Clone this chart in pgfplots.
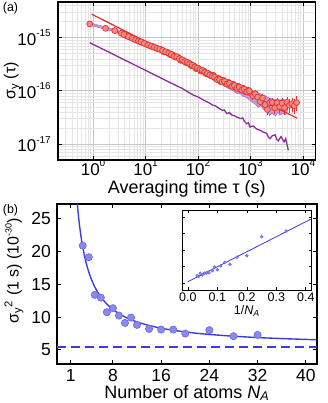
\documentclass[border=0pt]{standalone}
\usepackage{fontspec}
\setmainfont{Liberation Sans}
\usepackage{pgfplots}
\pgfplotsset{compat=1.18}
\definecolor{redline}{HTML}{E3342F}
\definecolor{redfill}{HTML}{F08A86}
\definecolor{purp}{HTML}{8E2D9C}
\definecolor{purpfill}{HTML}{C29AD6}
\definecolor{blueline}{HTML}{3B3BE0}
\definecolor{bluefill}{HTML}{8A8AEE}
\newcommand{\sx}[1]{\raisebox{8.5pt}{\fontsize{10}{10}\selectfont #1}}
\newcommand{\sy}[1]{\raisebox{7pt}{\fontsize{9}{9}\selectfont #1}}
\pgfplotstableread{
t s e
0.866 1.81e-15 0.03
1.73 1.50e-15 0.03
2.60 1.36e-15 0.03
3.46 1.21e-15 0.03
4.33 1.09e-15 0.03
5.20 1.005e-15 0.03
6.06 9.40e-16 0.03
6.93 8.89e-16 0.03
7.79 8.49e-16 0.03
8.66 8.15e-16 0.04
10.39 7.52e-16 0.04
12.12 7.05e-16 0.04
13.86 6.75e-16 0.04
15.59 6.43e-16 0.04
17.32 6.17e-16 0.04
19.9 5.96e-16 0.04
22.5 5.41e-16 0.05
26.0 5.27e-16 0.05
29.4 4.79e-16 0.05
32.9 4.74e-16 0.05
37.2 4.31e-16 0.05
41.6 4.27e-16 0.05
46.8 3.75e-16 0.05
52.8 3.70e-16 0.06
58.9 3.42e-16 0.06
65.8 3.35e-16 0.06
73.6 2.99e-16 0.06
82.3 2.96e-16 0.06
91.8 2.62e-16 0.07
102.2 2.60e-16 0.07
114.3 2.35e-16 0.07
127.3 2.38e-16 0.07
142 2.11e-16 0.08
158.5 2.09e-16 0.08
176.7 1.93e-16 0.08
196.6 1.96e-16 0.08
219.1 1.69e-16 0.09
244.2 1.72e-16 0.09
271.9 1.49e-16 0.09
303.1 1.58e-16 0.10
337.7 1.37e-16 0.10
376.7 1.45e-16 0.10
420 1.25e-16 0.11
467.6 1.33e-16 0.11
519.6 1.15e-16 0.12
580.2 1.22e-16 0.12
645 1.06e-16 0.13
718.8 1.12e-16 0.13
801 9.72e-17 0.14
892 1.03e-16 0.14
996 9.13e-17 0.15
1108 8.08e-17 0.15
1230 8.80e-17 0.16
1368 7.61e-17 0.17
1524 6.28e-17 0.18
1697 7.32e-17 0.18
1888 5.51e-17 0.19
2104 4.45e-17 0.20
2338 5.96e-17 0.21
2598 6.05e-17 0.22
2901 4.76e-17 0.23
3230 5.96e-17 0.24
3594 5.03e-17 0.25
4001 5.87e-17 0.26
4460 4.84e-17 0.27
4962 6.05e-17 0.28
5525 5.35e-17 0.29
6149 5.69e-17 0.30
6841 5.27e-17 0.31
7534 6.04e-17 0.32
3.87 1.15e-15 0.03
4.75 1.047e-15 0.03
5.61 9.72e-16 0.03
6.48 9.14e-16 0.03
7.35 8.69e-16 0.03
8.21 8.32e-16 0.03
9.49 7.83e-16 0.04
11.22 7.28e-16 0.04
12.96 6.90e-16 0.04
14.7 6.59e-16 0.04
16.43 6.30e-16 0.04
18.57 6.06e-16 0.04
21.16 5.75e-16 0.04
24.19 5.45e-16 0.05
27.65 5.10e-16 0.05
31.1 4.85e-16 0.05
35.0 4.45e-16 0.05
39.3 4.40e-16 0.05
44.1 4.05e-16 0.05
49.7 3.85e-16 0.05
55.8 3.56e-16 0.06
62.3 3.45e-16 0.06
69.6 3.22e-16 0.06
77.8 3.05e-16 0.06
86.9 2.83e-16 0.06
96.9 2.70e-16 0.07
108.1 2.50e-16 0.07
120.6 2.42e-16 0.07
134.5 2.26e-16 0.07
150 2.15e-16 0.08
167.4 1.98e-16 0.08
186.4 1.88e-16 0.08
207.5 1.80e-16 0.08
231.3 1.63e-16 0.09
257.7 1.62e-16 0.09
287.1 1.46e-16 0.09
320 1.50e-16 0.10
356.7 1.34e-16 0.10
397.8 1.38e-16 0.10
443.2 1.22e-16 0.11
492.9 1.27e-16 0.11
549.1 1.12e-16 0.12
611.7 1.17e-16 0.12
680.9 1.03e-16 0.13
758.8 1.08e-16 0.13
845.3 9.55e-17 0.14
942.6 1.00e-16 0.14
}\reddata
\pgfplotstableread{
n s
3 20.86
4 19.1
5 13.37
6 12.95
7 10.73
8 11.34
9 10.22
10 9.1
11 9.91
12 8.8
14 8.19
16 8.09
18 8.09
20 7.48
24 8.0
28 7.08
32 7.28
}\bluedata
\pgfplotstableread{
x s
0.3333 20.86
0.25 19.1
0.2 13.37
0.1667 12.95
0.1429 10.73
0.125 11.34
0.1111 10.22
0.1 9.1
0.0909 9.91
0.0833 8.8
0.0714 8.19
0.0625 8.09
0.0556 8.09
0.05 7.48
0.0417 8.0
0.0357 7.08
0.03125 7.28
}\invdata
\begin{document}
\fontsize{18}{21}\selectfont
\begin{tikzpicture}
\useasboundingbox (0pt,0pt) rectangle (327pt,403pt);
% ---------------- panel (a)
\begin{axis}[
  at={(58pt,243pt)}, anchor=south west, scale only axis,
  width=257.5pt, height=158.3pt,
  xmode=log, ymode=log,
  xmin=0.215, xmax=17300, ymin=5.0e-18, ymax=4.75e-15,
  xtick={1,10,100,1000,10000},
  xticklabels={10\sx{0},10\sx{1},10\sx{2},10\sx{3},10\sx{4}},
  ytick={1e-17,1e-16,1e-15},
  yticklabels={10\sx{-17},10\sx{-16},10\sx{-15}},
  minor xtick={0.3,0.4,0.5,0.6,0.7,0.8,0.9,2,3,4,5,6,7,8,9,20,30,40,50,60,70,80,90,200,300,400,500,600,700,800,900,2000,3000,4000,5000,6000,7000,8000,9000},
  minor ytick={6e-18,7e-18,8e-18,9e-18,2e-17,3e-17,4e-17,5e-17,6e-17,7e-17,8e-17,9e-17,2e-16,3e-16,4e-16,5e-16,6e-16,7e-16,8e-16,9e-16,2e-15,3e-15,4e-15},
  grid=both,
  major grid style={draw=black!22, line width=0.7pt},
  minor grid style={draw=black!10, line width=0.5pt},
  axis line style={line width=1.6pt},
  major tick length=4pt, minor tick length=0pt,
  major tick style={black, line width=0.9pt},
  tick label style={font=\fontsize{17}{20}\selectfont},
  xticklabel style={anchor=base, yshift=-15pt},
  yticklabel style={xshift=-1pt},
  xlabel={Averaging time τ (s)},
  ylabel={σ\textsubscript{y} (τ)},
  every axis x label/.style={at={(rel axis cs:0.5,0)}, anchor=base, yshift=-33pt},
  every axis y label/.style={at={(rel axis cs:0,0.5)}, rotate=90, anchor=center, yshift=46pt, font=\fontsize{16}{19}\selectfont},
  clip=true,
]
\addplot[fill=purpfill, draw=purp!70, line width=0.5pt] coordinates {
(0.866,1.905e-15) (1.73,1.585e-15) (2.60,1.429e-15) (4.33,1.161e-15) (8.66,8.81e-16)
(17.3,6.76e-16) (34.7,5.01e-16) (69.2,3.55e-16) (138,2.51e-16) (275,1.78e-16)
(437,1.41e-16) (550,1.288e-16) (708,1.148e-16) (891,1.072e-16) (1122,1.0e-16)
(1413,9.12e-17) (1778,8.32e-17) (2138,7.59e-17) (2512,7.08e-17) (3020,6.92e-17)
(3631,6.76e-17) (4169,6.92e-17) (5012,6.61e-17)
(5012,4.17e-17) (4571,3.55e-17) (4169,3.80e-17) (3631,3.47e-17) (3311,3.98e-17)
(3020,3.39e-17) (2512,3.80e-17) (2291,3.39e-17) (2138,4.17e-17) (1778,4.37e-17)
(1585,5.25e-17) (1413,4.90e-17) (1122,6.03e-17) (1000,6.46e-17) (891,7.24e-17)
(708,7.94e-17) (631,8.91e-17) (550,8.91e-17) (437,1.047e-16) (355,1.148e-16)
(275,1.380e-16) (200,1.66e-16) (138,2.0e-16) (69.2,2.82e-16) (34.7,4.07e-16)
(17.3,5.62e-16) (8.66,7.59e-16) (4.33,1.023e-15) (2.60,1.288e-15) (1.73,1.429e-15)
(0.866,1.718e-15)
} -- cycle;
\addplot[purp, line width=1.3pt] coordinates {
(0.866,8.05e-16) (3.162,4.27e-16) (10,2.427e-16) (31.6,1.380e-16) (50.1,1.109e-16)
(63.1,9.66e-17) (81.3,8.32e-17) (100,7.67e-17) (125.9,6.76e-17) (158.5,6.03e-17)
(190.5,5.37e-17) (213.8,5.25e-17) (251.2,4.68e-17) (295.1,4.27e-17) (316,4.37e-17)
(355,3.72e-17) (398,3.89e-17) (447,3.47e-17) (501,3.39e-17) (562,3.16e-17)
(646,3.02e-17) (708,3.09e-17) (759,2.69e-17) (851,2.40e-17) (912,2.51e-17)
(977,2.09e-17) (1122,2.19e-17) (1318,1.905e-17) (1514,1.82e-17) (1778,1.66e-17)
(2042,1.585e-17) (2188,1.35e-17) (2344,1.259e-17) (2630,1.445e-17) (2951,1.479e-17)
(3162,1.23e-17) (3388,1.148e-17) (3802,1.38e-17) (4365,1.096e-17) (4677,1.259e-17)
(5248,7.59e-18)
};
\addplot[only marks, mark=*, mark size=3pt,
  mark options={fill=redfill, draw=redline, line width=0.7pt},
  error bars/.cd, y dir=both, y explicit relative,
  error bar style={redline, line width=0.8pt}, error mark=none]
  table[x=t, y=s, y error=e] {\reddata};
\addplot[redline, line width=1.3pt] coordinates {(0.94,2.77e-15) (7600,3.08e-17)};
\end{axis}
\node[font=\fontsize{12.5}{14}\selectfont] at (10.5pt,395pt) {(a)};
% ---------------- panel (b)
\begin{axis}[
  at={(57pt,39pt)}, anchor=south west, scale only axis,
  width=259.7pt, height=159.7pt,
  xmin=-1.27, xmax=41.8, ymin=2.85, ymax=27.15,
  xtick={1,8,16,24,32,40}, ytick={5,10,15,20,25},
  /pgf/number format/assume math mode=true,
  axis line style={line width=1.6pt},
  major tick length=4pt,
  major tick style={black, line width=0.9pt},
  tick label style={font=\fontsize{17.5}{20}\selectfont},
  xticklabel style={anchor=base, yshift=-17pt},
  xlabel={Number of atoms \textit{N}\textsubscript{\textit{A}}},
  ylabel={σ\textsubscript{y}\textsuperscript{2} (1 s) (10\sy{-30})},
  every axis x label/.style={at={(rel axis cs:0.5,0)}, anchor=base, yshift=-34pt},
  every axis y label/.style={at={(rel axis cs:0,0.585)}, rotate=90, anchor=center, yshift=43pt, font=\fontsize{16}{19}\selectfont},
  clip=true,
]
\addplot[blueline, line width=1.4pt, dash pattern=on 9pt off 5pt] coordinates {(-1.27,5.45) (41.8,5.45)};
\addplot[blueline, line width=1.4pt, smooth] coordinates {
(2.05,27.69) (2.1,27.16) (2.2,26.18) (2.35,24.85) (2.5,23.69) (2.7,22.34) (3.0,20.65)
(3.3,19.27) (3.6,18.12) (4.0,16.85) (4.5,15.58) (5,14.57) (5.5,13.74) (6,13.05)
(7,11.96) (8,11.15) (9,10.52) (10,10.01) (11,9.60) (12,9.25) (14,8.71) (16,8.30)
(18,7.98) (20,7.73) (22,7.52) (24,7.35) (27,7.14) (30,6.97) (33,6.83) (36,6.72)
(39,6.62) (41.8,6.54)};
\addplot[only marks, mark=*, mark size=3.6pt,
  mark options={fill=bluefill, draw=blueline!75, line width=0.7pt}]
  table[x=n, y=s] {\bluedata};
\end{axis}
\node[font=\fontsize{12.5}{14}\selectfont] at (10.5pt,193pt) {(b)};
% ---------------- inset
\begin{axis}[
  at={(182pt,112.7pt)}, anchor=south west, scale only axis,
  width=129.7pt, height=80pt,
  xmin=-0.02, xmax=0.42, ymin=2.85, ymax=27.15,
  xtick={0,0.1,0.2,0.3,0.4}, xticklabels={0.0,0.1,0.2,0.3,0.4},
  ytick={5,10,15,20,25}, yticklabels={},
  axis background/.style={fill=white},
  axis line style={line width=0.9pt},
  major tick length=3pt,
  major tick style={black, line width=0.7pt},
  tick label style={font=\fontsize{12.5}{14}\selectfont},
  xticklabel style={anchor=base, yshift=-11.5pt},
  xlabel={1/\textit{N}\textsubscript{\textit{A}}},
  every axis x label/.style={at={(rel axis cs:0.5,0)}, anchor=base, yshift=-24pt, font=\fontsize{12.5}{14}\selectfont},
  clip=true,
]
\addplot[blueline, line width=0.8pt] coordinates {(0,5.45) (0.42,24.6)};
\addplot[only marks, mark=*, mark size=1.5pt,
  mark options={fill=bluefill, draw=blueline!80, line width=0.4pt}]
  table[x=x, y=s] {\invdata};
\end{axis}
\end{tikzpicture}
\end{document}
